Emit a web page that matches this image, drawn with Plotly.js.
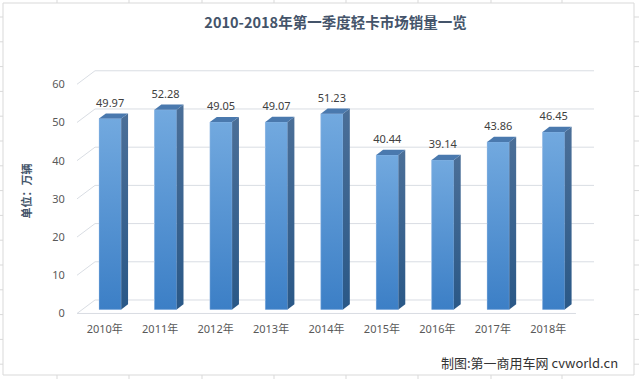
<!DOCTYPE html>
<html>
<head>
<meta charset="utf-8">
<script src="https://cdn.plot.ly/plotly-3.0.1.min.js"></script>
<style>html,body{margin:0;padding:0;background:#fff;}#chart{width:639px;height:379px;}</style>
</head>
<body>
<div id="chart"></div>
<script>
// ---- data ----
const years = ['2010年','2011年','2012年','2013年','2014年','2015年','2016年','2017年','2018年'];
const sales = [49.97, 52.28, 49.05, 49.07, 51.23, 40.44, 39.14, 43.86, 46.45];
const yTicks = [0, 10, 20, 30, 40, 50, 60];
const chartTitle = '2010-2018年第一季度轻卡市场销量一览';
const yTitle = '单位：万辆';
const sourceNote = '制图:第一商用车网 cvworld.cn';

// ---- 3D projection settings (style only) ----
const DX = 0.325, DY = 3.53;   // full depth offset in axis units
const F = 0.3;                 // bar front plane depth fraction
const G = 0.38;                // bar depth fraction
const BW = 0.4;                // bar width
const n = years.length;
const xi = years.map((_, i) => i);

// plot area in pixels
const L = 77, R = 45, T = 67, B = 64, W = 639, H = 379;
const PW = W - L - R, PH = H - T - B;
const px2x = p => (p - L) / PW;
const py2y = p => (H - B - p) / PH;

const traces = [];

// gridlines (front diagonal + back wall) built from ticks
const gx = [], gy = [];
yTicks.forEach(v => {
  gx.push(-0.5, -0.5 + DX, n - 0.5 + DX, null);
  gy.push(v, v + DY, v + DY, null);
});
gx.push(-0.5, n - 0.5, null); gy.push(0, 0, null);
traces.push({type:'scatter', mode:'lines', x:gx, y:gy, line:{color:'#d9dde3', width:1}, hoverinfo:'skip', showlegend:false});

// front faces as bars
traces.push({
  type:'bar', x:xi, y:sales, base:F*DY, width:BW, offset:F*DX - BW/2,
  marker:{color:'#5592d3', line:{width:0}}, hoverinfo:'skip', showlegend:false
});

sales.forEach((v, i) => {
  const xl = i + F*DX - BW/2, xr = i + F*DX + BW/2;
  const yb = F*DY, yt = v + F*DY;
  const ddx = G*DX, ddy = G*DY;
  // front gradient
  traces.push({type:'scatter', mode:'lines', x:[xl, xr, xr, xl, xl], y:[yb, yb, yt, yt, yb],
    fill:'toself', line:{width:0.6, color:'rgba(170,200,235,0.6)'},
    fillgradient:{type:'vertical', colorscale:[[0,'#3c7fc6'],[1,'#72a9df']]},
    hoverinfo:'skip', showlegend:false});
  // side face
  traces.push({type:'scatter', mode:'lines', x:[xr, xr+ddx, xr+ddx, xr, xr], y:[yb, yb+ddy, yt+ddy, yt, yb],
    fill:'toself', line:{width:0},
    fillgradient:{type:'vertical', colorscale:[[0,'#2a5887'],[1,'#4b6f98']]},
    hoverinfo:'skip', showlegend:false});
  // top face
  traces.push({type:'scatter', mode:'lines', x:[xl, xr, xr+ddx, xl+ddx, xl], y:[yt, yt, yt+ddy, yt+ddy, yt],
    fill:'toself', line:{width:0}, fillcolor:'#4a79ae',
    hoverinfo:'skip', showlegend:false});
});

// data labels
traces.push({type:'scatter', mode:'text', x:xi.map(i => i + F*DX), y:sales.map(v => v + F*DY + 3.8),
  text:sales.map(v => v.toFixed(2)), textposition:'middle center',
  textfont:{family:'Noto Sans, sans-serif', size:11, color:'#404040'},
  hoverinfo:'skip', showlegend:false, cliponaxis:false});

// decorative frame + spreadsheet grid
const shapes = [];
shapes.push({type:'rect', xref:'paper', yref:'paper', x0:px2x(3), x1:px2x(634), y0:py2y(375), y1:py2y(3),
  line:{color:'#d9d9d9', width:1}, fillcolor:'rgba(0,0,0,0)', layer:'below'});
[57,129,202,274,346,418,491,562].forEach(c => {
  shapes.push({type:'line', xref:'paper', yref:'paper', x0:px2x(c), x1:px2x(c), y0:py2y(0), y1:py2y(3), line:{color:'#d9d9d9', width:1}});
  shapes.push({type:'line', xref:'paper', yref:'paper', x0:px2x(c), x1:px2x(c), y0:py2y(375), y1:py2y(379), line:{color:'#d9d9d9', width:1}});
});
for (let r = 17; r < 375; r += 24.8) {
  shapes.push({type:'line', xref:'paper', yref:'paper', x0:px2x(0), x1:px2x(3), y0:py2y(r), y1:py2y(r), line:{color:'#d9d9d9', width:1}});
  shapes.push({type:'line', xref:'paper', yref:'paper', x0:px2x(634), x1:px2x(639), y0:py2y(r), y1:py2y(r), line:{color:'#d9d9d9', width:1}});
}

const layout = {
  width:W, height:H,
  margin:{l:L, r:R, t:T, b:B, pad:0},
  paper_bgcolor:'#ffffff', plot_bgcolor:'rgba(0,0,0,0)',
  showlegend:false,
  font:{family:'Noto Sans CJK SC, Noto Sans, sans-serif', color:'#595959'},
  title:{text:'<b>' + chartTitle + '</b>', x:0.5, xref:'paper', xanchor:'center', y:1 - 23/H, yref:'container', yanchor:'middle',
    font:{family:'Noto Sans CJK SC, sans-serif', size:14.5, color:'#44546a'}},
  xaxis:{type:'linear', range:[-0.5, n - 0.5 + DX], tickvals:xi, ticktext:years,
    showgrid:false, zeroline:false, showline:false, ticks:'outside', ticklen:4, tickcolor:'rgba(0,0,0,0)',
    tickfont:{family:'Noto Sans, Noto Sans CJK SC, sans-serif', size:11, color:'#595959'}, fixedrange:true},
  yaxis:{range:[-0.4, 64.52], tickvals:yTicks, showgrid:false, zeroline:false, showline:false,
    ticks:'outside', ticklen:9, tickcolor:'rgba(0,0,0,0)',
    tickfont:{family:'Noto Sans, sans-serif', size:11, color:'#595959'},
    title:{text:'<b>' + yTitle + '</b>', standoff:18, font:{family:'Noto Sans CJK SC, sans-serif', size:11, color:'#44546a'}},
    fixedrange:true},
  shapes:shapes,
  annotations:[{text:sourceNote, xref:'paper', yref:'paper', x:px2x(620), y:py2y(362), xanchor:'right', yanchor:'middle',
    showarrow:false, font:{family:'Noto Sans CJK SC, sans-serif', size:13, color:'#333333'}}]
};

Plotly.newPlot('chart', traces, layout, {staticPlot:true, displayModeBar:false});
</script>
</body>
</html>
